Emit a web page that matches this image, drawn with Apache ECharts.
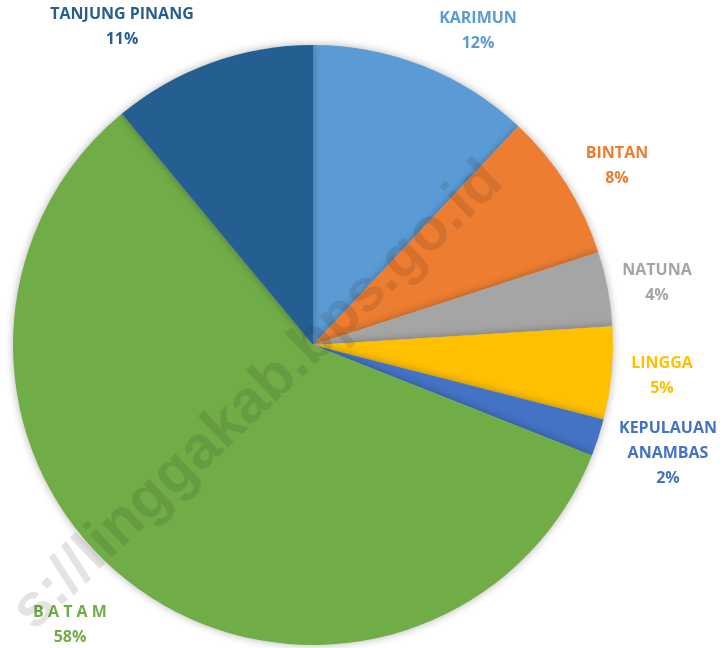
<!DOCTYPE html>
<html>
<head>
<meta charset="utf-8">
<script src="https://cdn.jsdelivr.net/npm/echarts@6/dist/echarts.min.js"></script>
<style>
  html, body { margin: 0; padding: 0; background: #fff; }
  #pie { width: 724px; height: 648px; }
</style>
</head>
<body>
<div id="pie"></div>
<script>
// kabupaten / kota, clockwise from 12 o'clock
const regions = ["KARIMUN", "BINTAN", "NATUNA", "LINGGA", "KEPULAUAN\nANAMBAS", "B A T A M", "TANJUNG PINANG"];
const shares = [12, 8, 4, 5, 2, 58, 11];
const colors = ["#5B9BD5", "#ED7D31", "#A5A5A5", "#FFC000", "#4472C4", "#70AD47", "#255E91"];

// where each label sits (center of text block)
const labelPos = [
  [478, 31], [617, 166], [657, 283], [662, 376], [668, 453], [70, 625], [122, 27]
];

let myChart = echarts.init(document.getElementById("pie"));

myChart.setOption({
  animation: false,
  graphic: [
    {
      type: "text",
      z: 100,
      silent: true,
      x: 258,
      y: 396,
      rotation: Math.PI * 43.5 / 180,
      style: {
        text: "s://linggakab.bps.go.id",
        font: "bold 60px 'Liberation Sans'",
        fill: "rgba(50, 40, 30, 0.13)",
        align: "center",
        verticalAlign: "middle"
      }
    }
  ],
  series: [
    {
      type: "pie",
      center: [313, 345],
      radius: [0, 300],
      startAngle: 90,
      clockwise: true,
      data: regions.map((n, i) => ({
        name: n,
        value: shares[i],
        itemStyle: { color: colors[i] },
        label: { color: colors[i] }
      })),
      itemStyle: {
        shadowBlur: 8,
        shadowColor: "rgba(0, 0, 0, 0.3)"
      },
      label: {
        show: true,
        position: "outside",
        formatter: "{b}\n{d}%",
        fontFamily: "Open Sans",
        fontWeight: "bold",
        fontSize: 16,
        lineHeight: 25,
        align: "center",
        overflow: "none",
        width: 200
      },
      labelLine: { show: false },
      labelLayout: function (p) {
        return {
          x: labelPos[p.dataIndex][0],
          y: labelPos[p.dataIndex][1],
          align: "center",
          verticalAlign: "middle",
          hideOverlap: false
        };
      },
      emphasis: { disabled: true }
    }
  ]
});
</script>
</body>
</html>
